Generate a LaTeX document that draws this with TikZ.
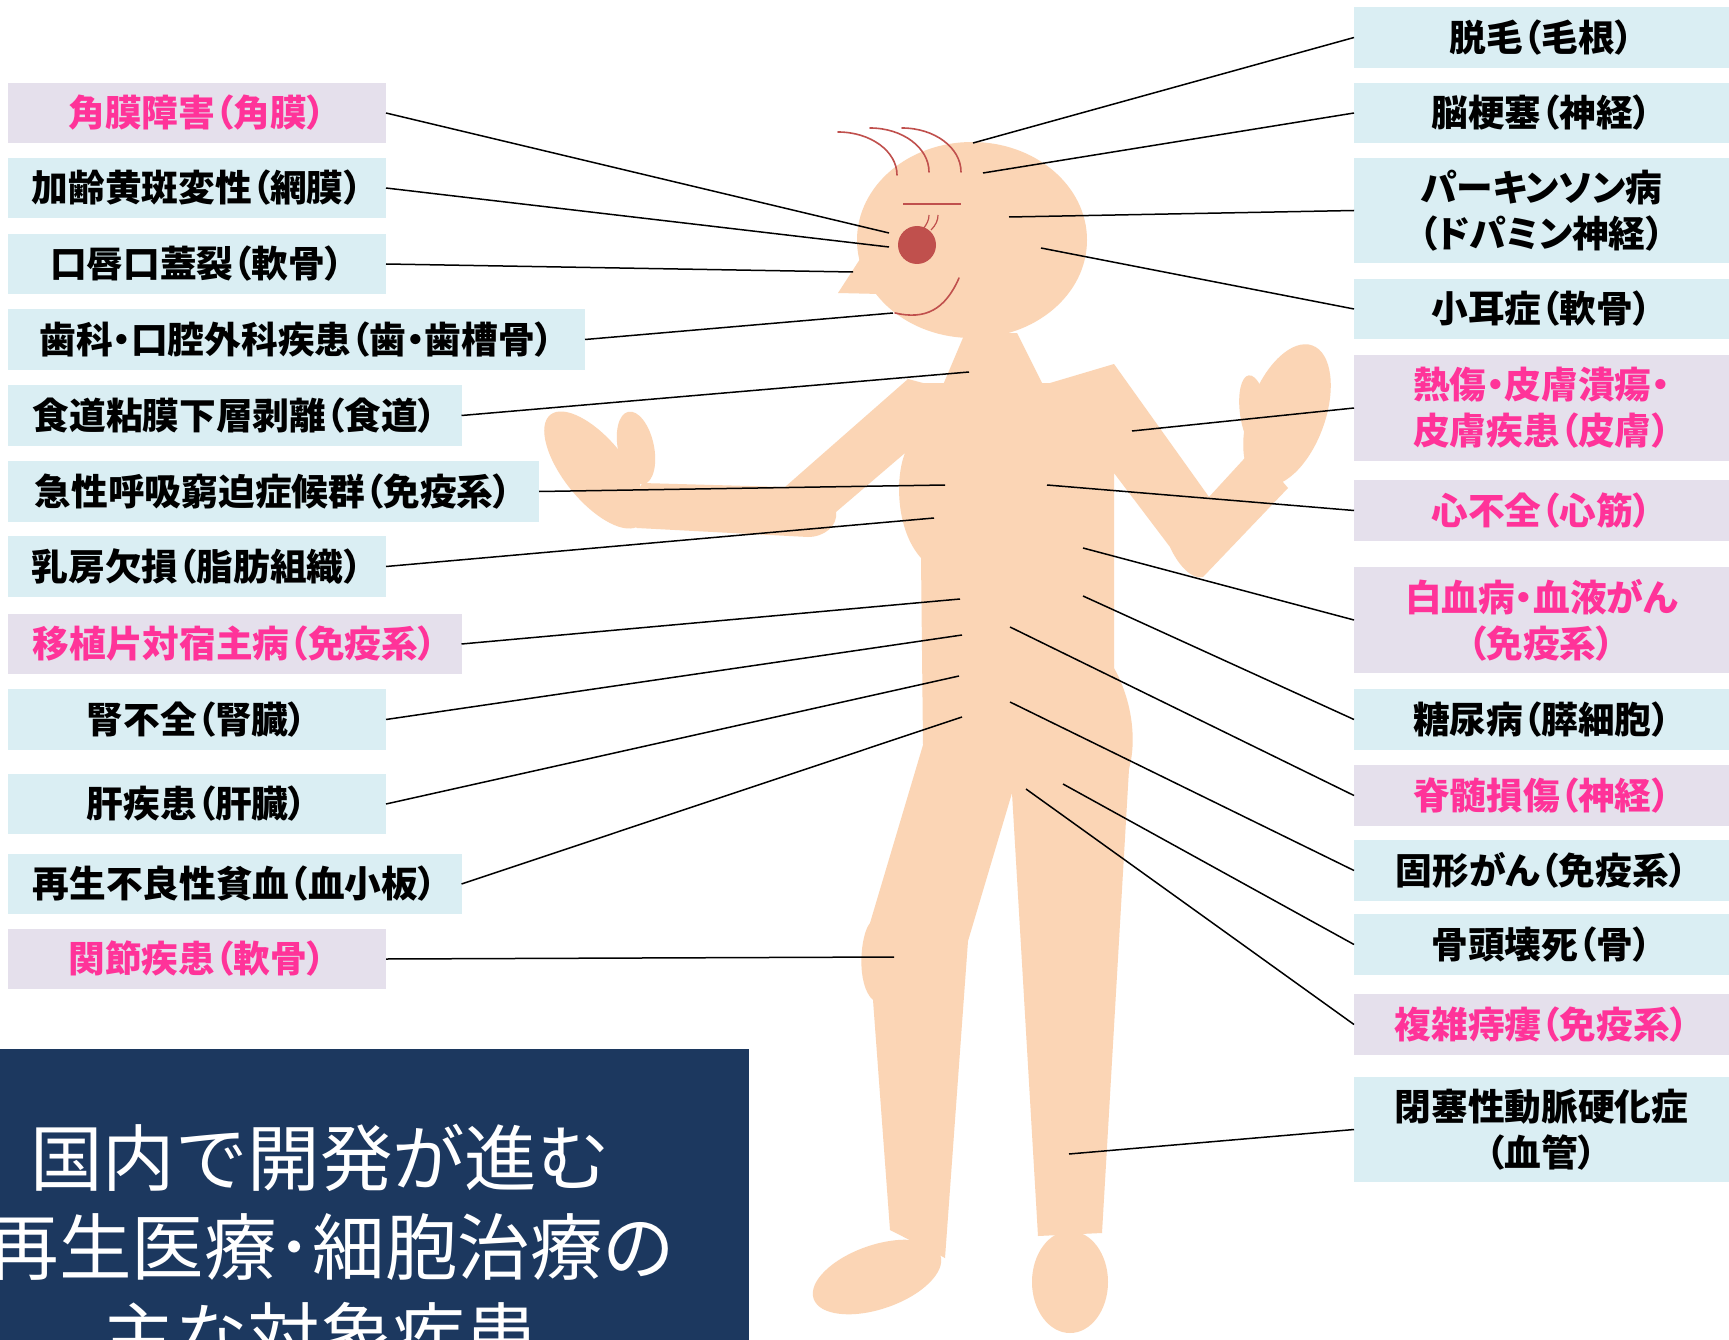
\documentclass[tikz,border=0pt]{standalone}
\usepackage{fontspec}
\newfontfamily\lblfont{Noto Sans CJK JP}[RawFeature=+palt]
\newfontfamily\ttlfont{Noto Sans CJK JP}
\definecolor{skin}{HTML}{FBD5B5}
\definecolor{hair}{HTML}{C0504D}
\definecolor{lblue}{HTML}{DAEEF3}
\definecolor{lav}{HTML}{E5E0EC}
\definecolor{pinktext}{HTML}{FF3399}
\definecolor{navy}{HTML}{1C385F}
\begin{document}
\begin{tikzpicture}[x=1pt,y=-1pt,
  lbox/.style={inner sep=0pt, outer sep=0pt, minimum height=60.5pt, align=center,
    font=\lblfont\bfseries\fontsize{36.7}{46}\selectfont},
  blu/.style={lbox, fill=lblue, text=black},
  pnk/.style={lbox, fill=lav, text=pinktext},
  lw/.style={minimum width=378.3pt},
  lm/.style={minimum width=453.8pt},
  rw/.style={minimum width=375pt},
  conn/.style={line width=1.5pt, black},
  hairline/.style={draw=hair, line width=1.6pt, line cap=round},
  ttl/.style={inner sep=0pt, text=white, font=\ttlfont\fontsize{72.5}{89}\selectfont}
]
\fill[white] (0,0) rectangle (1729,1340);
\useasboundingbox (0,0) rectangle (1729,1340);

% ---------- figure ----------
\fill[skin]
 (943,383) -- (923,383) -- (908,379) -- (785,487) -- (642,483) -- (628,522) -- (637,528) -- (808,537)
 .. controls (824,537) and (838,526) .. (836,512)
 -- (905,453)
 .. controls (895,478) and (896,530) .. (921,558)
 -- (923,745) -- (870,923)
 .. controls (860,935) and (856,985) .. (873,1000)
 -- (890,1230) -- (945,1258) -- (968,941) -- (1012,793) -- (1038,1236) -- (1102,1233) -- (1129,769)
 .. controls (1137,740) and (1132,700) .. (1114,668)
 -- (1114,473) -- (1170,547)
 .. controls (1178,565) and (1192,580) .. (1203,577)
 -- (1288,488) -- (1254,448) -- (1209,497) -- (1114,364) -- (1050,383) -- (1043,383) -- cycle;
% neck
\fill[skin] (965,333) -- (943,385) -- (1043,385) -- (1017,333) -- cycle;
% head and nose
\fill[skin] (972,240) ellipse [x radius=115pt, y radius=98pt];
\fill[skin] (862,256) -- (838,293) -- (880,294) -- (880,256) -- cycle;
% hands
\fill[skin, rotate around={-51:(595,470)}] (595,470) ellipse [x radius=71pt, y radius=31pt];
\fill[skin, rotate around={12:(636,448)}] (636,448) ellipse [x radius=18pt, y radius=37pt];
\fill[skin, rotate around={70:(1287,415)}] (1287,415) ellipse [x radius=74pt, y radius=38pt];
\fill[skin, rotate around={8:(1254,413)}] (1254,413) ellipse [x radius=14pt, y radius=38pt];
% feet
\fill[skin, rotate around={19:(877,1277)}] (877,1277) ellipse [x radius=67pt, y radius=32pt];
\fill[skin] (1070,1282) ellipse [x radius=38pt, y radius=51pt];

% face
\draw[hairline] (838,132) .. controls (870.6,132) and (897,151.3) .. (897,175);
\draw[hairline] (870,128) .. controls (902.6,128) and (929,147.7) .. (929,172);
\draw[hairline] (902,128) .. controls (934.6,128) and (961,147.7) .. (961,172);
\draw[hairline, line cap=butt] (903,204) -- (961,204);
\fill[hair] (917,245) circle [radius=19pt];
\draw[draw=hair, line width=1.2pt] (923,229) .. controls (927,224) and (929,220) .. (929,215);
\draw[draw=hair, line width=1.2pt] (931,230) .. controls (936,225) and (938,220) .. (938,215);
\draw[hairline] (959,278) .. controls (945,310) and (925,320) .. (895,313);

% ---------- title panel ----------
\fill[navy] (0,1049) rectangle (749,1340);
\node[ttl] (t1) at (320,1158) {国内で開発が進む};
\node[ttl] (t2) at (331,1247) {再生医療･細胞治療の};
\node[ttl] (t3) at (320,1336) {主な対象疾患};

% ---------- labels, left ----------
\node[pnk, lw] (k1) at (196.85,113) {角膜障害（角膜）};
\node[blu, lw] (k2) at (196.85,188) {加齢黄斑変性（網膜）};
\node[blu, lw] (k3) at (196.85,264) {口唇口蓋裂（軟骨）};
\node[blu, minimum width=577.3pt] (k4) at (296.35,339.5) {歯科・口腔外科疾患（歯・歯槽骨）};
\node[blu, lm] (k5) at (234.6,415.5) {食道粘膜下層剥離（食道）};
\node[blu, minimum width=531.3pt] (k6) at (273.35,491.5) {急性呼吸窮迫症候群（免疫系）};
\node[blu, lw] (k7) at (196.85,566.5) {乳房欠損（脂肪組織）};
\node[pnk, lm] (k8) at (234.6,644) {移植片対宿主病（免疫系）};
\node[blu, lw] (k9) at (196.85,719.5) {腎不全（腎臓）};
\node[blu, lw] (k10) at (196.85,804) {肝疾患（肝臓）};
\node[blu, lm] (k11) at (234.6,884) {再生不良性貧血（血小板）};
\node[pnk, lw] (k12) at (196.85,959) {関節疾患（軟骨）};

% ---------- labels, right ----------
\node[blu, rw] (r1) at (1541.5,37.5) {脱毛（毛根）};
\node[blu, rw] (r2) at (1541.5,113) {脳梗塞（神経）};
\node[blu, rw, minimum height=105pt] (r3) at (1541.5,210.5) {パーキンソン病\\（ドパミン神経）};
\node[blu, rw] (r4) at (1541.5,309) {小耳症（軟骨）};
\node[pnk, rw, minimum height=106pt] (r5) at (1541.5,408) {熱傷・皮膚潰瘍・\\皮膚疾患（皮膚）};
\node[pnk, rw] (r6) at (1541.5,510.5) {心不全（心筋）};
\node[pnk, rw, minimum height=106pt] (r7) at (1541.5,620) {白血病・血液がん\\（免疫系）};
\node[blu, rw] (r8) at (1541.5,719.5) {糖尿病（膵細胞）};
\node[pnk, rw] (r9) at (1541.5,795.5) {脊髄損傷（神経）};
\node[blu, rw] (r10) at (1541.5,870.5) {固形がん（免疫系）};
\node[blu, rw] (r11) at (1541.5,944.5) {骨頭壊死（骨）};
\node[pnk, rw] (r12) at (1541.5,1024.5) {複雑痔瘻（免疫系）};
\node[blu, rw, minimum height=105pt] (r13) at (1541.5,1129.5) {閉塞性動脈硬化症\\（血管）};

% ---------- body points ----------
\coordinate (p1) at (889,233);
\coordinate (p2) at (889,247);
\coordinate (p3) at (853,272);
\coordinate (p4) at (893,313);
\coordinate (p5) at (969,372);
\coordinate (p6) at (945,485);
\coordinate (p7) at (934,518);
\coordinate (p8) at (960,599);
\coordinate (p9) at (962,635);
\coordinate (p10) at (959,676);
\coordinate (p11) at (962,717);
\coordinate (p12) at (894,957);
\coordinate (q1) at (973,143);
\coordinate (q2) at (983,173);
\coordinate (q3) at (1009,217);
\coordinate (q4) at (1041,248);
\coordinate (q5) at (1132,431);
\coordinate (q6) at (1047,485);
\coordinate (q7) at (1083,548);
\coordinate (q8) at (1083,596);
\coordinate (q9) at (1010,627);
\coordinate (q10) at (1010,702);
\coordinate (q11) at (1063,784);
\coordinate (q12) at (1026,789);
\coordinate (q13) at (1069,1154);

% ---------- connectors ----------
\foreach \i in {1,...,12} \draw[conn] (k\i.east) -- (p\i);
\foreach \i in {1,...,13} \draw[conn] (r\i.west) -- (q\i);
\end{tikzpicture}
\end{document}
